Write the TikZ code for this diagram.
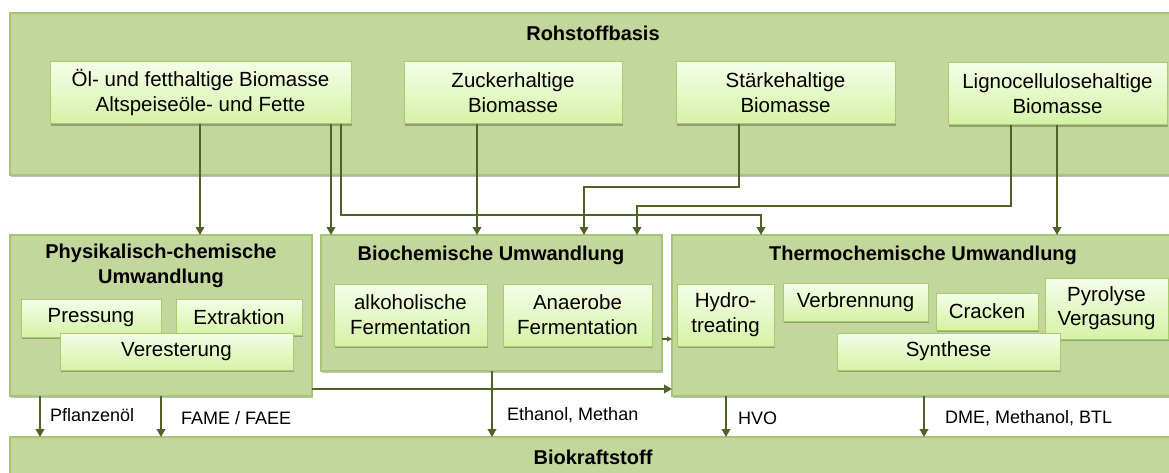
\documentclass[tikz,border=0pt]{standalone}
\usepackage{fontspec}
\setmainfont{Liberation Sans}
\usetikzlibrary{shadows,arrows.meta}
\definecolor{outerfill}{HTML}{C3D69B}
\definecolor{outerdraw}{HTML}{A8C477}
\definecolor{innerdraw}{HTML}{A6CC6C}
\definecolor{gtop}{HTML}{F5FDE8}
\definecolor{gbot}{HTML}{D5F2A6}
\definecolor{arrowc}{HTML}{4F6228}
\begin{document}
\begin{tikzpicture}[x=1pt,y=-1pt,
  outer/.style={draw=outerdraw, line width=1.2pt, fill=outerfill, anchor=north west, outer sep=0pt, inner sep=0pt,
    drop shadow={shadow xshift=1pt, shadow yshift=-2pt, opacity=0.25, fill=black}},
  inbox/.style={draw=innerdraw, line width=1pt, top color=gtop, bottom color=gbot, anchor=north west, outer sep=0pt, inner sep=0pt,
    align=center, font=\fontsize{20.5}{25}\selectfont,
    drop shadow={shadow xshift=1pt, shadow yshift=-2pt, opacity=0.25, fill=black}},
  ttl/.style={font=\bfseries\fontsize{20}{25}\selectfont, align=center, inner sep=0pt},
  lbl/.style={font=\fontsize{18}{22}\selectfont, anchor=west, inner sep=0pt},
  arr/.style={draw=arrowc, line width=2.1pt, -{Triangle[length=8pt,width=8.5pt]}}
]
\useasboundingbox (0,0) rectangle (1169,473);

% outer containers
\node[outer, minimum width=1165pt, minimum height=162pt] (roh) at (10,13) {};
\node[outer, minimum width=302pt, minimum height=161pt] (phys) at (10,235) {};
\node[outer, minimum width=341pt, minimum height=136pt] (bio) at (321,235) {};
\node[outer, minimum width=503pt, minimum height=161pt] (thermo) at (672,235) {};
\node[outer, minimum width=1165pt, minimum height=45pt] (biok) at (10,437) {};

% titles
\node[ttl] (troh) at (593,33) {Rohstoffbasis};
\node[ttl] (tphys) at (161,266) {Physikalisch-chemische\\Umwandlung};
\node[ttl] (tbio) at (491,255) {Biochemische Umwandlung};
\node[ttl] (tthermo) at (923,255) {Thermochemische Umwandlung};
\node[ttl] (tbiok) at (593,457) {Biokraftstoff};

% raw material boxes
\node[inbox, minimum width=301pt, minimum height=62pt] (oel) at (50,62) {Öl- und fetthaltige Biomasse\\Altspeiseöle- und Fette};
\node[inbox, minimum width=218pt, minimum height=62pt] (zucker) at (404,62) {Zuckerhaltige\\Biomasse};
\node[inbox, minimum width=219pt, minimum height=62pt] (staerke) at (676,62) {Stärkehaltige\\Biomasse};
\node[inbox, minimum width=219pt, minimum height=62pt] (ligno) at (948,63) {Lignocellulosehaltige\\Biomasse};

% physical-chemical
\node[inbox, minimum width=140pt, minimum height=38pt] (press) at (21,299) {Pressung};
\node[inbox, minimum width=126pt, minimum height=36pt] (extr) at (176,299) {Extraktion};
\node[inbox, minimum width=233pt, minimum height=37pt] (verest) at (60,333) {Veresterung};

% biochemical
\node[inbox, minimum width=153pt, minimum height=62pt] (alk) at (334,284) {alkoholische\\Fermentation};
\node[inbox, minimum width=149pt, minimum height=62pt] (anae) at (503,284) {Anaerobe\\Fermentation};

% thermochemical
\node[inbox, minimum width=97pt, minimum height=62pt] (hydro) at (677,284) {Hydro-\\treating};
\node[inbox, minimum width=145pt, minimum height=38pt] (verbr) at (783,283) {Verbrennung};
\node[inbox, minimum width=102pt, minimum height=37pt] (crack) at (936,293) {Cracken};
\node[inbox, minimum width=123pt, minimum height=61pt, font=\fontsize{20.5}{24}\selectfont] (pyro) at (1045,278) {Pyrolyse\\Vergasung};
\node[inbox, minimum width=223pt, minimum height=37pt] (synth) at (837,333) {Synthese};

% helper coordinates
\coordinate (x200) at (200,0);
\coordinate (x331) at (331,0);
\coordinate (x477) at (477,0);
\coordinate (x1057) at (1057,0);
\coordinate (p1) at (341,215);
\coordinate (p2) at (761,215);
\coordinate (s1) at (739,187);
\coordinate (s2) at (584,187);
\coordinate (l1) at (1011,206);
\coordinate (l2) at (637,206);
\coordinate (h339) at (0,339);
\coordinate (h389) at (0,389);
\coordinate (x40) at (40,0);
\coordinate (x161) at (161,0);
\coordinate (x492) at (492,0);
\coordinate (x726) at (726,0);
\coordinate (x924) at (924,0);

% top connectors
\draw[arr] (oel.south -| x200) -- (phys.north -| x200);
\draw[arr] (oel.south -| x331) -- (bio.north -| x331);
\draw[arr] (oel.south -| p1) -- (p1) -| (thermo.north -| p2);
\draw[arr] (zucker.south -| x477) -- (bio.north -| x477);
\draw[arr] (staerke.south -| s1) -- (s1) -| (bio.north -| s2);
\draw[arr] (ligno.south -| l1) -- (l1) -| (bio.north -| l2);
\draw[arr] (ligno.south -| x1057) -- (thermo.north -| x1057);

% middle connectors
\draw[draw=arrowc, line width=1.4pt, -{Triangle[length=5pt,width=5pt]}] (bio.east |- h339) -- (thermo.west |- h339);
\draw[arr] (phys.east |- h389) -- (thermo.west |- h389);

% bottom connectors
\draw[arr] (phys.south -| x40) -- (biok.north -| x40);
\draw[arr] (phys.south -| x161) -- (biok.north -| x161);
\draw[arr] (bio.south -| x492) -- (biok.north -| x492);
\draw[arr] (thermo.south -| x726) -- (biok.north -| x726);
\draw[arr] (thermo.south -| x924) -- (biok.north -| x924);

% labels
\node[lbl] (lpfl) at (50,415) {Pflanzenöl};
\node[lbl] (lfame) at (181,418) {FAME / FAEE};
\node[lbl] (leth) at (507,415) {Ethanol, Methan};
\node[lbl] (lhvo) at (738,418) {HVO};
\node[lbl] (ldme) at (945,418) {DME, Methanol, BTL};
\end{tikzpicture}
\end{document}
